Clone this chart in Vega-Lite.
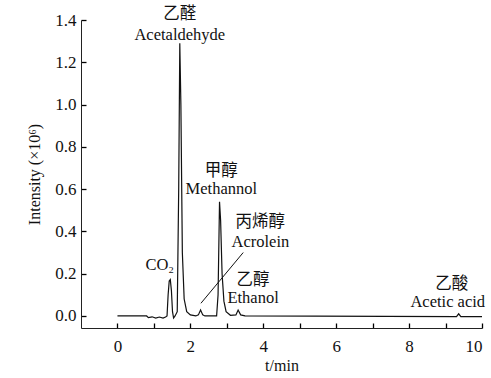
{
  "$schema": "https://vega.github.io/schema/vega-lite/v6.json",
  "autosize": "none",
  "width": 401,
  "height": 308,
  "padding": {"left": 81, "top": 20, "right": 9, "bottom": 50},
  "background": "white",
  "config": {
    "view": {"stroke": null},
    "font": "Liberation Serif",
    "axis": {
      "domainColor": "#222",
      "tickColor": "#000",
      "labelColor": "#111",
      "titleColor": "#111",
      "labelFont": "Liberation Serif",
      "titleFont": "Liberation Serif",
      "labelFontSize": 17,
      "titleFontSize": 16,
      "titleFontWeight": "normal",
      "grid": false,
      "ticks": true
    }
  },
  "datasets": {
    "curve": [
      {"t": 0, "y": 0.0},
      {"t": 0.8, "y": 0.0},
      {"t": 0.85, "y": -0.008},
      {"t": 0.95, "y": -0.004},
      {"t": 1.05, "y": -0.01},
      {"t": 1.15, "y": -0.005},
      {"t": 1.25, "y": -0.01},
      {"t": 1.32, "y": -0.005},
      {"t": 1.36, "y": 0.0},
      {"t": 1.39, "y": 0.1},
      {"t": 1.42, "y": 0.165},
      {"t": 1.45, "y": 0.172},
      {"t": 1.48, "y": 0.12},
      {"t": 1.51, "y": 0.02},
      {"t": 1.54, "y": -0.01},
      {"t": 1.58, "y": 0.0},
      {"t": 1.64, "y": 0.02},
      {"t": 1.68, "y": 0.6},
      {"t": 1.71, "y": 1.29},
      {"t": 1.74, "y": 1.0},
      {"t": 1.78, "y": 0.3},
      {"t": 1.83, "y": 0.08},
      {"t": 1.9, "y": 0.02},
      {"t": 2.0, "y": 0.005},
      {"t": 2.15, "y": 0.0},
      {"t": 2.22, "y": 0.005},
      {"t": 2.28, "y": 0.028},
      {"t": 2.34, "y": 0.005},
      {"t": 2.4, "y": 0.0},
      {"t": 2.72, "y": 0.0},
      {"t": 2.76, "y": 0.1},
      {"t": 2.8, "y": 0.54},
      {"t": 2.83, "y": 0.45},
      {"t": 2.87, "y": 0.2},
      {"t": 2.92, "y": 0.07},
      {"t": 2.98, "y": 0.02},
      {"t": 3.1, "y": 0.003},
      {"t": 3.25, "y": 0.005},
      {"t": 3.31, "y": 0.028},
      {"t": 3.38, "y": 0.005},
      {"t": 3.5, "y": 0.0},
      {"t": 9.3, "y": -0.003},
      {"t": 9.36, "y": 0.01},
      {"t": 9.42, "y": -0.003},
      {"t": 10, "y": -0.003}
    ],
    "labels": [
      {"t": 1.71, "y": 1.43, "label": "乙醛"},
      {"t": 1.71, "y": 1.33, "label": "Acetaldehyde"},
      {"t": 2.85, "y": 0.685, "label": "甲醇"},
      {"t": 2.85, "y": 0.60, "label": "Methannol"},
      {"t": 3.92, "y": 0.445, "label": "丙烯醇"},
      {"t": 3.92, "y": 0.35, "label": "Acrolein"},
      {"t": 1.16, "y": 0.24, "label": "CO₂"},
      {"t": 3.72, "y": 0.17, "label": "乙醇"},
      {"t": 3.72, "y": 0.085, "label": "Ethanol"},
      {"t": 9.17, "y": 0.15, "label": "乙酸"},
      {"t": 9.06, "y": 0.066, "label": "Acetic acid"}
    ],
    "pointer": [
      {"t": 2.29, "y": 0.06, "t2": 3.45, "y2": 0.30}
    ]
  },
  "layer": [
    {
      "data": {"name": "curve"},
      "mark": {"type": "line", "color": "#111", "strokeWidth": 1.2, "clip": true},
      "encoding": {
        "x": {
          "field": "t", "type": "quantitative",
          "scale": {"domain": [-1, 10], "nice": false, "zero": false},
          "axis": {
            "title": "t/min",
            "values": [0, 1, 2, 3, 4, 5, 6, 7, 8, 9, 10],
            "labelExpr": "datum.value % 2 === 0 ? datum.label : ''",
            "tickSize": -5,
            "tickWidth": 1.3,
            "labelPadding": 15,
            "titlePadding": 3
          }
        },
        "y": {
          "field": "y", "type": "quantitative",
          "scale": {"domain": [-0.057, 1.4], "nice": false, "zero": false},
          "axis": {
            "title": "Intensity (×10⁶)",
            "values": [0, 0.1, 0.2, 0.3, 0.4, 0.5, 0.6, 0.7, 0.8, 0.9, 1.0, 1.1, 1.2, 1.3, 1.4],
            "format": ".1f",
            "labelExpr": "round(datum.value * 10) % 2 === 0 ? datum.label : ''",
            "tickSize": -5,
            "tickWidth": 1.3,
            "labelPadding": 10,
            "titlePadding": 12
          }
        }
      }
    },
    {
      "data": {"name": "pointer"},
      "mark": {"type": "rule", "color": "#111", "strokeWidth": 1},
      "encoding": {
        "x": {"field": "t", "type": "quantitative"},
        "y": {"field": "y", "type": "quantitative"},
        "x2": {"field": "t2"},
        "y2": {"field": "y2"}
      }
    },
    {
      "data": {"name": "labels"},
      "mark": {"type": "text", "font": "Liberation Serif, Noto Sans CJK SC", "fontSize": 16.5, "color": "#111", "align": "center", "baseline": "middle"},
      "encoding": {
        "x": {"field": "t", "type": "quantitative"},
        "y": {"field": "y", "type": "quantitative"},
        "text": {"field": "label"}
      }
    }
  ]
}
